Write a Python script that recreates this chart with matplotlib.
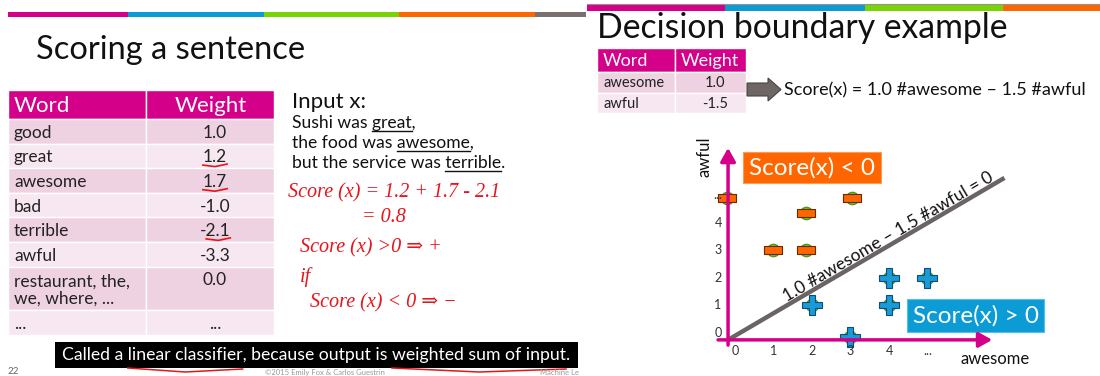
import math
import matplotlib
matplotlib.use("Agg")
import matplotlib.pyplot as plt
from matplotlib.patches import Rectangle, Polygon

plt.rcParams['font.family'] = ['Lato', 'DejaVu Sans']

# ---- datos ----
palabras = ["good", "great", "awesome", "bad", "terrible", "awful",
            "restaurant, the,\nwe, where, ...", "..."]
pesos = ["1.0", "1.2", "1.7", "-1.0", "-2.1", "-3.3", "0.0", "..."]

palabras_ej = ["awesome", "awful"]
pesos_ej = ["1.0", "-1.5"]

frase = ["Sushi was great,", "the food was awesome,", "but the service was terrible."]
subrayadas = ["great", "awesome", "terrible"]

manuscrito = ["Score (x) = 1.2 + 1.7 - 2.1", "= 0.8", "Score (x) >0 \u21d2 +", "if",
              "Score (x) < 0 \u21d2 \u2212"]

# puntos (#awesome, #awful)
neg_awesome = [-0.2, 1.0, 1.85, 1.85, 3.05]
neg_awful = [4.9, 3.0, 3.0, 4.35, 4.9]
pos_awesome = [2.0, 3.0, 4.0, 4.0, 5.0]
pos_awful = [1.0, -0.15, 1.0, 2.0, 2.0]

ticks = [0, 1, 2, 3, 4, 5]
tick_labels = ["0", "1", "2", "3", "4", "..."]

MAGENTA = "#d4008a"
AZUL = "#0b9bd5"
VERDE = "#78d404"
NARANJA = "#ff6600"
GRIS = "#7a7070"
ROSA1 = "#efd2e2"
ROSA2 = "#f7e7f0"
ROJO = "#e8141b"

fig = plt.figure(figsize=(11, 3.76), dpi=100)
bg = fig.add_axes([0, 0, 1, 1])
bg.set_xlim(0, 1100)
bg.set_ylim(376, 0)
bg.axis('off')
renderer = fig.canvas.get_renderer()


def ancho(texto, **kw):
    t = bg.text(0, 0, texto, **kw)
    w = t.get_window_extent(renderer).width
    t.remove()
    return w


# barras de colores
for x0, x1, c in [(8, 128, MAGENTA), (128, 264, AZUL), (264, 399, VERDE),
                  (399, 535, NARANJA), (535, 586, GRIS)]:
    bg.add_patch(Rectangle((x0, 12), x1 - x0, 5, color=c, lw=0))
bg.plot([587, 1100], [4.3, 4.3], color="#9a9090", lw=0.8)
for x0, x1, c in [(587, 725, MAGENTA), (725, 865, AZUL), (865, 1003, VERDE), (1003, 1100, NARANJA)]:
    bg.add_patch(Rectangle((x0, 5), x1 - x0, 6, color=c, lw=0))

# titulos
bg.text(36, 59, "Scoring a sentence", fontsize=23.5, va='baseline', color='#111111')
bg.text(597, 38, "Decision boundary example", fontsize=24.3, va='baseline', color='#111111')

# ---- tabla izquierda ----
bg.add_patch(Rectangle((8, 90), 138, 29, facecolor=MAGENTA, edgecolor='white', lw=1))
bg.add_patch(Rectangle((146, 90), 128, 29, facecolor=MAGENTA, edgecolor='white', lw=1))
bg.text(14, 106, "Word", color='white', fontsize=16, va='center')
bg.text(211, 106, "Weight", color='white', fontsize=16, va='center', ha='center')
y = 119
for i, (p, w) in enumerate(zip(palabras, pesos)):
    nl = p.count("\n")
    h = 24.6 + 19 * nl
    c = ROSA1 if i % 2 == 0 else ROSA2
    bg.add_patch(Rectangle((8, y), 138, h, facecolor=c, edgecolor='white', lw=1))
    bg.add_patch(Rectangle((146, y), 128, h, facecolor=c, edgecolor='white', lw=1))
    bg.text(14, y + h / 2 + 1.5, p, fontsize=12.5, va='center', color='#222222', linespacing=1.05)
    bg.text(215, y + 13.8, w, fontsize=12.5, va='center', ha='center', color='#222222')
    if w in ("1.2", "1.7", "-2.1"):
        wn = ancho(w.lstrip('-'), fontsize=12.5)
        xe = 215 + ancho(w, fontsize=12.5) / 2
        bg.plot([xe - wn, xe - wn / 2, xe], [y + 21.5, y + 23, y + 20.5], color=ROJO, lw=1.2)
    y += h

# ---- entrada ----
bg.text(292, 108, "Input x:", fontsize=16, va='baseline', color='#111111')
for k, linea in enumerate(frase):
    yb = 128 + 20 * k
    bg.text(292, yb, linea, fontsize=12.6, va='baseline', color='#111111')
    pal = subrayadas[k]
    pref = linea[:linea.index(pal) + len(pal)]
    xe = 292 + ancho(pref, fontsize=12.6)
    xs = xe - ancho(pal, fontsize=12.6)
    bg.plot([xs, xe], [yb + 3, yb + 3], color='#111111', lw=1)

# notas a mano
fam_mano = ['Liberation Serif', 'DejaVu Serif']
for txt, (xm, ym) in zip(manuscrito, [(288, 193), (362, 218), (300, 248), (300, 277), (310, 303)]):
    bg.text(xm, ym, txt, fontsize=14.5, color=ROJO, style='italic', family=fam_mano, va='center')

# ---- franja inferior ----
bg.add_patch(Rectangle((55, 342), 523, 26, color='black', lw=0))
cap = "Called a linear classifier, because output is weighted sum of input."
bg.text(62, 355, cap, fontsize=12.7, color='white', va='center')
for frag in ["linear classifier", "weighted sum of input"]:
    pref = cap[:cap.index(frag) + len(frag)]
    xe = 62 + ancho(pref, fontsize=12.7)
    xs = xe - ancho(frag, fontsize=12.7)
    bg.plot([xs, (xs + xe) / 2, xe], [368, 372, 369], color=ROJO, lw=1.1)
bg.text(8, 372, "22", fontsize=7, color='#666666', va='center')
bg.text(265, 376, "\u00a92015 Emily Fox & Carlos Guestrin", fontsize=5.5, color='#999999', va='bottom')
bg.text(540, 376, "Machine Le", fontsize=5.5, color='#999999', va='bottom')

# ---- tabla derecha ----
bg.add_patch(Rectangle((597, 48), 78, 24, facecolor=MAGENTA, edgecolor='white', lw=1))
bg.add_patch(Rectangle((675, 48), 71, 24, facecolor=MAGENTA, edgecolor='white', lw=1))
bg.text(603, 61, "Word", color='white', fontsize=13, va='center')
bg.text(710, 61, "Weight", color='white', fontsize=13, va='center', ha='center')
for i, (p, w) in enumerate(zip(palabras_ej, pesos_ej)):
    y0 = 72 + 20.5 * i
    c = ROSA1 if i % 2 == 0 else ROSA2
    bg.add_patch(Rectangle((597, y0), 78, 20.5, facecolor=c, edgecolor='white', lw=1))
    bg.add_patch(Rectangle((675, y0), 71, 20.5, facecolor=c, edgecolor='white', lw=1))
    bg.text(603, y0 + 11, p, fontsize=10.5, va='center', color='#222222')
    bg.text(715, y0 + 11, w, fontsize=10.5, va='center', ha='center', color='#222222')

bg.add_patch(Polygon([(747, 83), (768, 83), (768, 78), (781, 89.5), (768, 101), (768, 96), (747, 96)],
                     closed=True, facecolor='#6e6565', edgecolor='#4a4444', lw=0.8))
bg.text(784, 90, "Score(x) = 1.0 #awesome \u2013 1.5 #awful", fontsize=13, va='center', color='#111111')

# ---- grafico de frontera ----
ax = fig.add_axes([700 / 1100, 0, 400 / 1100, 256 / 376])
ax.set_xlim(-0.909, 9.481)
ax.set_ylim(-1.564, 7.745)
ax.axis('off')

flecha = dict(arrowstyle='-|>,head_length=0.8,head_width=0.45', color=MAGENTA, lw=2.5,
              shrinkA=0, shrinkB=0)
ax.annotate('', xy=(-0.18, 6.73), xytext=(-0.18, -0.44), arrowprops=flecha)
ax.annotate('', xy=(6.68, -0.25), xytext=(-0.44, -0.25), arrowprops=flecha)

lx = [-0.18, 7.0]
ly = [-0.25, 5.64]
ax.plot(lx, ly, color='#6b6464', lw=3.2, solid_capstyle='butt')
p0 = ax.transData.transform((lx[0], ly[0]))
p1 = ax.transData.transform((lx[1], ly[1]))
ang = math.degrees(math.atan2(p1[1] - p0[1], p1[0] - p0[0]))
ax.text(3.97, 3.49, "1.0 #awesome \u2013 1.5 #awful = 0", rotation=ang, rotation_mode='anchor',
        ha='center', va='center', fontsize=12.5, color='#111111')

for t, lab in zip(ticks, tick_labels):
    ax.text(-0.44, t, lab, fontsize=9, ha='center', va='center', color='#333333')
    ax.text(t, -0.65, lab, fontsize=9, ha='center', va='center', color='#333333')
ax.text(-0.78, 6.4, "awful", rotation=90, fontsize=12, ha='center', va='center', color='#111111')
ax.text(6.75, -0.95, "awesome", fontsize=12, ha='center', va='center', color='#111111')

ax.add_patch(Rectangle((0.21, 5.45), 3.58, 1.13, facecolor=NARANJA, edgecolor='#ff9955', lw=0.8))
ax.text(2.0, 6.0, "Score(x) < 0", color='white', fontsize=17.5, ha='center', va='center')
ax.add_patch(Rectangle((4.47, 0.04), 3.56, 1.2, facecolor=AZUL, edgecolor='#58c0e8', lw=0.8))
ax.text(6.25, 0.64, "Score(x) > 0", color='white', fontsize=17.5, ha='center', va='center')

rect = [(-1, -0.45), (1, -0.45), (1, 0.45), (-1, 0.45), (-1, -0.45)]
ax.plot(neg_awesome, neg_awful, 'o', ms=9, mfc='#6cc417', mec='#4a8f12', mew=0.8, ls='none')
ax.plot(neg_awesome, neg_awful, marker=rect, ms=12.5, mfc=NARANJA, mec='#6a2a00', mew=0.8, ls='none')
ax.plot(pos_awesome, pos_awful, 'o', ms=9, mfc='#6cc417', mec='#4a8f12', mew=0.8, ls='none')
ax.plot(pos_awesome, pos_awful, 'P', ms=14, mfc='#1a9ad6', mec='#0a4f7a', mew=0.8, ls='none')

fig.savefig("out.png", dpi=100)
